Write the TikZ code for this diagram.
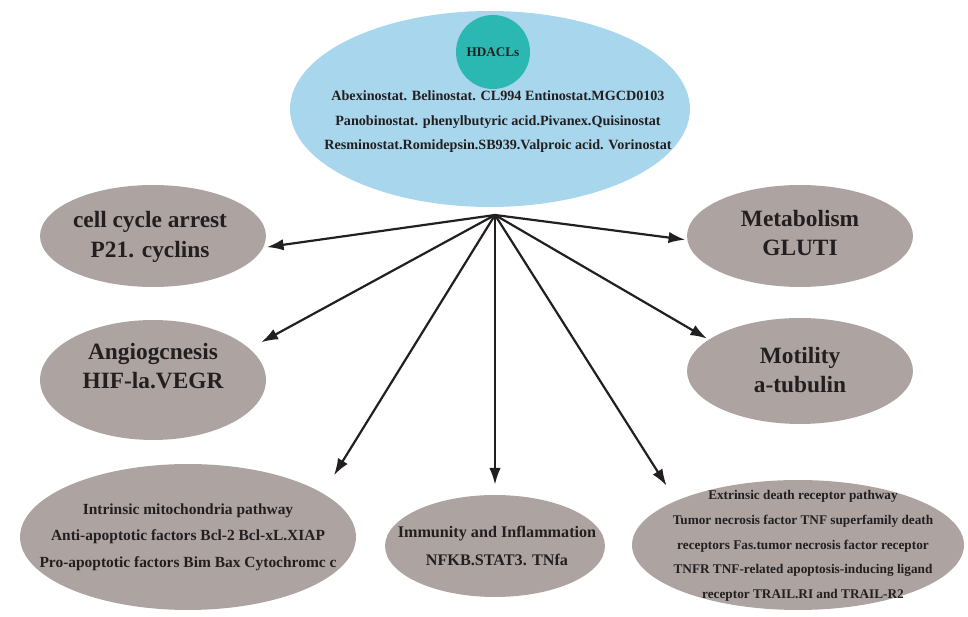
\documentclass[tikz,border=0pt]{standalone}
\usepackage{fontspec}
\setmainfont{Liberation Serif}
\usetikzlibrary{%
  arrows.meta,%
  shapes.geometric,%
}
\definecolor{drugblue}{RGB}{168,214,236}
\definecolor{hdacteal}{RGB}{44,184,178}
\definecolor{effectgrey}{RGB}{173,164,162}
\definecolor{inkdark}{RGB}{35,31,32}

\begin{document}
\begin{tikzpicture}[x=0.02cm, y=-0.02cm, text=inkdark,
    effect/.style={ellipse, fill=effectgrey, inner sep=0pt},
    bigtext/.style={align=center, font=\fontsize{13.3}{16.8}\selectfont\bfseries},
    link/.style={-{Latex[length=9.5pt,width=6.5pt]}, line width=1.25pt, draw=inkdark}]

      \useasboundingbox (0, 0) rectangle (968, 617);

      \node (drugs) [ellipse, fill=drugblue, inner sep=0pt,
        minimum width=8cm, minimum height=3.92cm] at (490, 109) {};
      \node (hdacl) [circle, fill=hdacteal, minimum size=1.48cm,
        font=\fontsize{7.5}{9}\selectfont\bfseries] at (493, 52) {HDACLs};
      \node (druglist) [align=center, font=\fontsize{8.05}{13.9}\selectfont\bfseries]
        at (498, 122)
        {
          Abexinostat. Belinostat. CL994 Entinostat.MGCD0103 \\
          Panobinostat. phenylbutyric acid.Pivanex.Quisinostat \\
          Resminostat.Romidepsin.SB939.Valproic acid. Vorinostat
        };

      \coordinate (hub) at (495, 215);

      \node (cell) [effect, minimum width=4.52cm, minimum height=2.04cm] at (153, 236) {};
      \node (celltxt) [bigtext] at (150, 237) {cell cycle arrest \\ P21. cyclins};

      \node (meta) [effect, minimum width=4.52cm, minimum height=2.04cm] at (800, 236) {};
      \node (metatxt) [bigtext] at (800, 233) {Metabolism \\ GLUTI};

      \node (angio) [effect, minimum width=4.52cm, minimum height=2.4cm] at (153, 380) {};
      \node (angiotxt) [bigtext] at (153, 366) {Angiogcnesis \\ HIF-la.VEGR};

      \node (moti) [effect, minimum width=4.52cm, minimum height=2.12cm] at (800, 371) {};
      \node (motitxt) [bigtext] at (800, 370) {Motility \\ a-tubulin};

      \node (intr) [effect, minimum width=6.72cm, minimum height=2.92cm] at (188, 537) {};
      \node (intrtxt) [align=center, font=\fontsize{8.8}{15}\selectfont\bfseries]
        at (188, 537)
        {
          Intrinsic mitochondria pathway \\
          Anti-apoptotic factors Bcl-2 Bcl-xL.XIAP \\
          Pro-apoptotic factors Bim Bax Cytochromc c
        };

      \node (immu) [effect, minimum width=4.4cm, minimum height=2.04cm] at (495, 546) {};
      \node (immutxt) [align=center, font=\fontsize{9.2}{15.9}\selectfont\bfseries]
        at (497, 546)
        {
          Immunity and Inflammation \\
          NFKB.STAT3. TNfa
        };

      \node (extr) [effect, minimum width=6.64cm, minimum height=2.6cm] at (798, 545) {};
      \node (extrtxt) [align=center, font=\fontsize{7.55}{14}\selectfont\bfseries]
        at (803, 546)
        {
          Extrinsic death receptor pathway \\
          Tumor necrosis factor TNF superfamily death \\
          receptors Fas.tumor necrosis factor receptor \\
          TNFR TNF-related apoptosis-inducing ligand \\
          receptor TRAIL.RI and TRAIL-R2
        };

      \draw [link, shorten >=2pt] (hub) -- (cell.-6);
      \draw [link, shorten >=1pt] (hub) -- (meta.182);
      \draw [link, shorten >=7.5pt] (hub) -- (angio.18);
      \draw [link, shorten >=1pt] (hub) -- (moti.161);
      \draw [link, shorten >=12pt] (hub) -- (intr.18);
      \draw [link, shorten >=5.7pt] (hub) -- (immu.north);
      \draw [link, shorten >=10pt] (hub) -- (extr.160);

\end{tikzpicture}
\end{document}
